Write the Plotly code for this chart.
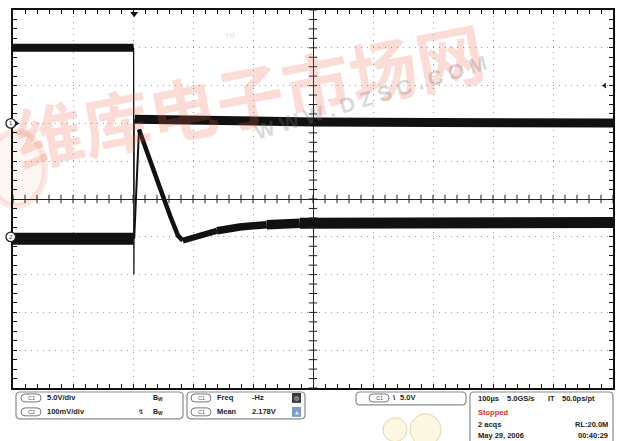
import plotly.graph_objects as go

# ---------------- data (read from the scope capture) ----------------
TIME_PER_DIV_US = 100          # 100 us/div
C1_VOLTS_PER_DIV = 5.0         # C1 5.0 V/div
C2_MV_PER_DIV = 100.0          # C2 100 mV/div
C1_POSITION_DIV = 2.0
C2_POSITION_DIV = -1.0
TRIGGER_TIME_US = -298
TRIGGER_LEVEL_V = 5.0

c1_before_t = [-500, -299]
c1_before_v = [10.0, 10.0]
c1_edge_t = [-299, -298.5, -298]
c1_edge_v = [10.0, -20.0, 0.55]
c1_after_t = [-297, -250, -150, 0, 200, 500]
c1_after_v = [0.55, 0.45, 0.33, 0.2, 0.12, 0.05]

c2_before_t = [-500, -299]
c2_before_mv = [-5, -5]
c2_edge_t = [-298, -290]
c2_edge_mv = [-5, 284]
c2_fall_t = [-290, -272, -255, -238, -225, -217]
c2_fall_mv = [284, 208, 129, 55, 3, -10]
c2_rec1_t = [-217, -188, -160]
c2_rec1_mv = [-10, 3, 16]
c2_rec2_t = [-160, -122, -77]
c2_rec2_mv = [16, 26, 32]
c2_rec3_t = [-77, -22]
c2_rec3_mv = [32, 36]
c2_settled_t = [-22, 145, 500]
c2_settled_mv = [36, 37, 38]

# ---------------- helpers ----------------
def c1y(v):
    return [x / C1_VOLTS_PER_DIV + C1_POSITION_DIV for x in v]

def c2y(mv):
    return [x / C2_MV_PER_DIV + C2_POSITION_DIV for x in mv]

W, H = 623, 441
ML, MR, MT, MB = 13, 10, 8, 53
PW, PH = W - ML - MR, H - MT - MB

def px(x):
    return (x - ML) / PW

def py(y):
    return (MT + PH - y) / PH

TRACE = "#111111"
fig = go.Figure()

def line(t, y, width):
    fig.add_trace(go.Scatter(x=t, y=y, mode="lines",
                             line=dict(color=TRACE, width=width),
                             hoverinfo="skip"))

line(c1_before_t, c1y(c1_before_v), 8)
line(c1_after_t, c1y(c1_after_v), 9)
line(c1_edge_t, c1y(c1_edge_v), 1.3)
line(c2_before_t, c2y(c2_before_mv), 12)
line(c2_edge_t, c2y(c2_edge_mv), 2)
line(c2_fall_t, c2y(c2_fall_mv), 4.5)
line(c2_rec1_t, c2y(c2_rec1_mv), 6)
line(c2_rec2_t, c2y(c2_rec2_mv), 7.5)
line(c2_rec3_t, c2y(c2_rec3_mv), 9.5)
line(c2_settled_t, c2y(c2_settled_mv), 11)

# centre-line cross ticks
xt = list(range(-500, 501, 20))
yt = [i * 0.25 for i in range(-20, 21)]
fig.add_trace(go.Scatter(x=xt, y=[0] * len(xt), mode="markers",
                         marker=dict(symbol="line-ns", size=6,
                                     line=dict(color="#222", width=1)),
                         hoverinfo="skip"))
fig.add_trace(go.Scatter(x=[0] * len(yt), y=yt, mode="markers",
                         marker=dict(symbol="line-ew", size=6,
                                     line=dict(color="#222", width=1)),
                         hoverinfo="skip"))

# trigger position (top) and trigger level (right) markers
fig.add_trace(go.Scatter(x=[TRIGGER_TIME_US], y=[4.9], mode="markers",
                         marker=dict(symbol="triangle-down", size=7, color="#111"),
                         cliponaxis=False, hoverinfo="skip"))
fig.add_trace(go.Scatter(x=[486], y=c1y([TRIGGER_LEVEL_V]), mode="markers",
                         marker=dict(symbol="triangle-left", size=5, color="#111"),
                         cliponaxis=False, hoverinfo="skip"))

shapes = []
ann = []

# channel ground markers (circle straddling the left border, with an arrow)
DIV_PX = PH / 10.0
for lab, pos in (("1", C1_POSITION_DIV), ("2", C2_POSITION_DIV)):
    fig.add_trace(go.Scatter(x=[-494], y=[pos], mode="markers",
                             marker=dict(symbol="triangle-right", size=5, color="#111"),
                             cliponaxis=False, hoverinfo="skip"))
    r = 4.8 / DIV_PX
    shapes.append(dict(type="circle", xref="paper", yref="y",
                       x0=px(6), x1=px(15.6), y0=pos - r, y1=pos + r,
                       line=dict(color="#222", width=1.3), fillcolor="white", layer="above"))
    ann.append(dict(x=px(10.8), y=pos, xref="paper", yref="y", text=lab,
                    showarrow=False, xanchor="center", yanchor="middle",
                    font=dict(size=6, color="#333", family="Liberation Sans")))

def rrect(x0, y0, x1, y1, r, color="#8a8a8a", width=1.2, fill="rgba(0,0,0,0)"):
    pts = (f"M {px(x0 + r)},{py(y0)} L {px(x1 - r)},{py(y0)} "
           f"Q {px(x1)},{py(y0)} {px(x1)},{py(y0 + r)} "
           f"L {px(x1)},{py(y1 - r)} Q {px(x1)},{py(y1)} {px(x1 - r)},{py(y1)} "
           f"L {px(x0 + r)},{py(y1)} Q {px(x0)},{py(y1)} {px(x0)},{py(y1 - r)} "
           f"L {px(x0)},{py(y0 + r)} Q {px(x0)},{py(y0)} {px(x0 + r)},{py(y0)} Z")
    shapes.append(dict(type="path", xref="paper", yref="paper", path=pts,
                       line=dict(color=color, width=width), fillcolor=fill, layer="above"))

def txt(x, y, s, size=7.5, color="#222", anchor="left", bold=True, family="Liberation Sans"):
    ann.append(dict(x=px(x), y=py(y), xref="paper", yref="paper", text=s,
                    showarrow=False, xanchor=anchor, yanchor="middle",
                    font=dict(size=size, color=color, family=family,
                              weight="bold" if bold else "normal")))

def pill(x, y, lab):
    rrect(x, y - 4, x + 20, y + 4, 4, color="#777", width=1)
    txt(x + 10, y, lab, size=5.5, color="#555", anchor="center", bold=False)

# watermark
ann.append(dict(x=px(249), y=py(92), xref="paper", yref="paper", text="维库电子市场网",
                showarrow=False, textangle=-11, xanchor="center", yanchor="middle",
                font=dict(size=68, color="rgba(238,95,70,0.22)",
                          family="Noto Sans CJK SC", weight="bold")))
ann.append(dict(x=px(370), y=py(96), xref="paper", yref="paper",
                text="W W W . D Z S C . C O M", showarrow=False, textangle=-17,
                xanchor="center", yanchor="middle",
                font=dict(size=21, color="rgba(120,120,120,0.28)",
                          family="Liberation Sans", weight="bold")))
ann.append(dict(x=px(230), y=py(34), xref="paper", yref="paper", text="TM",
                showarrow=False, textangle=-11, xanchor="center", yanchor="middle",
                font=dict(size=7, color="rgba(120,120,120,0.3)", family="Liberation Sans")))
shapes.append(dict(type="circle", xref="paper", yref="paper",
                   x0=px(-12), x1=px(45), y0=py(205), y1=py(130),
                   line=dict(color="rgba(238,95,70,0.15)", width=6),
                   fillcolor="rgba(238,95,70,0.06)", layer="below"))

# bottom status boxes
rrect(16, 392, 183, 419, 4)
rrect(187, 392, 305, 419, 4)
rrect(356, 392, 466, 405, 4)
rrect(470, 392, 613, 450, 4)

pill(21, 398, "C1")
txt(45, 398, "5.0V/div")
txt(151, 398, "B<sub>W</sub>", size=7)
pill(21, 412, "C2")
txt(45, 412, "100mV/div")
txt(136, 412, "↯", size=7, bold=False, family="DejaVu Sans")
txt(151, 412, "B<sub>W</sub>", size=7)

pill(191, 398, "C1")
txt(215, 398, "Freq")
txt(250, 398, "-Hz")
shapes.append(dict(type="rect", xref="paper", yref="paper", x0=px(292), x1=px(301),
                   y0=py(403), y1=py(393), fillcolor="#3c3c3c", line=dict(width=0)))
txt(296.5, 398, "◎", size=6, color="white", anchor="center", bold=False, family="DejaVu Sans")
pill(191, 412, "C1")
txt(215, 412, "Mean")
txt(250, 412, "2.178V")
shapes.append(dict(type="rect", xref="paper", yref="paper", x0=px(292), x1=px(301),
                   y0=py(417), y1=py(407), fillcolor="#7f9cc8", line=dict(width=0)))
txt(296.5, 412, "▲", size=5, color="#dfe8f6", anchor="center", bold=False, family="DejaVu Sans")

pill(369, 398, "C1")
txt(391, 398, "\\", size=8)
txt(398, 398, "5.0V")

txt(476, 399, "100µs")
txt(505, 399, "5.0GS/s")
txt(546, 399, "IT")
txt(560, 399, "50.0ps/pt")
txt(476, 413, "Stopped", color="#d8312e")
txt(476, 425, "2 acqs")
txt(610, 425, "RL:20.0M", anchor="right")
txt(476, 436, "May 29, 2006")
txt(610, 436, "00:40:29", anchor="right")

# faint circles at the bottom
shapes.append(dict(type="circle", xref="paper", yref="paper",
                   x0=px(383), x1=px(407), y0=py(442), y1=py(418),
                   line=dict(color="#e2d6a6", width=1), fillcolor="#fdf8e2"))
shapes.append(dict(type="circle", xref="paper", yref="paper",
                   x0=px(410), x1=px(441), y0=py(446), y1=py(414),
                   line=dict(color="#e2d6a6", width=1), fillcolor="#fdf8e2"))

fig.update_layout(
    width=W, height=H,
    margin=dict(l=ML, r=MR, t=MT, b=MB, pad=0),
    paper_bgcolor="white", plot_bgcolor="white",
    showlegend=False,
    shapes=shapes, annotations=ann,
    xaxis=dict(range=[-500, 500], dtick=TIME_PER_DIV_US, showticklabels=False,
               showgrid=True, gridcolor="#9a9a9a", griddash="1px,5px", gridwidth=1,
               zeroline=True, zerolinecolor="#222", zerolinewidth=1,
               showline=True, linecolor="#111", linewidth=2, mirror="allticks",
               ticks="inside", ticklen=4, tickcolor="#111",
               minor=dict(dtick=20, ticks="inside", ticklen=4, tickcolor="#111", showgrid=False),
               fixedrange=True),
    yaxis=dict(range=[-5, 5], dtick=1, showticklabels=False,
               showgrid=True, gridcolor="#9a9a9a", griddash="1px,5px", gridwidth=1,
               zeroline=True, zerolinecolor="#222", zerolinewidth=1,
               showline=True, linecolor="#111", linewidth=2, mirror="allticks",
               ticks="inside", ticklen=4, tickcolor="#111",
               minor=dict(dtick=0.25, ticks="inside", ticklen=4, tickcolor="#111", showgrid=False),
               fixedrange=True),
)

fig.write_html("out.html", config={"displayModeBar": False},
               post_script="document.body.style.margin='0px';document.body.style.overflow='hidden';")
